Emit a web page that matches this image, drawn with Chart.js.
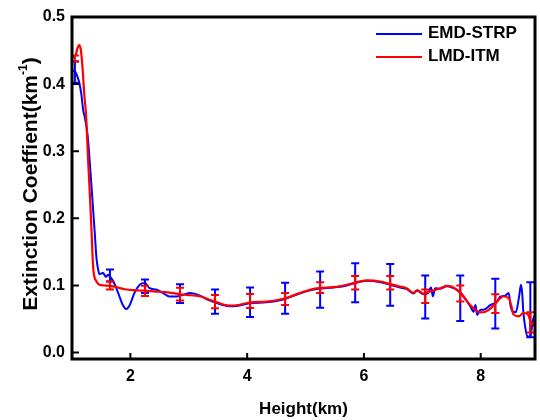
<!DOCTYPE html>
<html><head><meta charset="utf-8">
<script src="https://cdn.jsdelivr.net/npm/chart.js@4.4.0/dist/chart.umd.min.js"></script>
<style>html,body{margin:0;padding:0;background:#fff;}</style>
</head><body>
<canvas id="c" width="540" height="420"></canvas>
<script>
// ---- data ----
const seriesNames = ['EMD-STRP', 'LMD-ITM'];
const xTicks = [2, 4, 6, 8];
const yTicks = [0, 0.1, 0.2, 0.3, 0.4, 0.5];

const blueX = [1.00,1.03,1.06,1.09,1.125,1.16,1.19,1.22,1.27,1.31,1.35,1.39,1.42,1.45,1.47,1.51,1.53,1.58,1.62,1.67,1.71,1.75,1.79,1.87,1.93,1.99,2.07,2.16,2.245,2.33,2.45,2.56,2.67,2.79,2.90,3.02,3.19,3.32,3.45,3.58,3.70,3.85,4.04,4.33,4.50,4.65,4.90,5.05,5.22,5.48,5.65,5.82,6.05,6.28,6.45,6.62,6.73,6.85,6.91,7.02,7.10,7.15,7.18,7.22,7.31,7.42,7.51,7.65,7.82,7.88,7.91,7.94,8.00,8.05,8.17,8.28,8.33,8.42,8.48,8.51,8.54,8.60,8.66,8.69,8.71,8.73,8.76,8.80,8.85,8.88,8.91,8.93];
const blueY = [0.418,0.420,0.418,0.412,0.402,0.385,0.362,0.350,0.322,0.277,0.228,0.178,0.140,0.123,0.117,0.118,0.119,0.113,0.116,0.111,0.106,0.098,0.089,0.071,0.065,0.071,0.089,0.101,0.1036,0.096,0.0936,0.0887,0.0836,0.0836,0.086,0.0887,0.085,0.079,0.075,0.071,0.069,0.070,0.0735,0.075,0.077,0.080,0.088,0.092,0.095,0.097,0.099,0.103,0.107,0.105,0.101,0.097,0.095,0.088,0.092,0.087,0.089,0.097,0.084,0.096,0.095,0.099,0.097,0.090,0.069,0.061,0.071,0.056,0.064,0.064,0.071,0.076,0.083,0.085,0.089,0.070,0.062,0.060,0.085,0.101,0.089,0.061,0.039,0.024,0.024,0.039,0.054,0.048];

const redX = [1.00,1.05,1.09,1.12,1.15,1.18,1.21,1.24,1.28,1.31,1.336,1.354,1.37,1.42,1.47,1.55,1.65,1.75,1.82,1.93,2.05,2.16,2.30,2.45,2.60,2.73,2.85,2.96,3.19,3.32,3.45,3.58,3.70,3.85,4.04,4.33,4.50,4.65,4.90,5.05,5.22,5.48,5.65,5.82,6.05,6.28,6.45,6.62,6.73,6.85,6.91,7.02,7.13,7.31,7.42,7.51,7.65,7.82,7.92,8.00,8.08,8.17,8.28,8.39,8.48,8.53,8.56,8.65,8.73,8.80,8.85,8.90,8.93];
const redY = [0.440,0.441,0.452,0.458,0.452,0.425,0.385,0.355,0.280,0.228,0.178,0.140,0.120,0.106,0.101,0.100,0.0995,0.098,0.096,0.094,0.093,0.0925,0.092,0.091,0.090,0.0887,0.087,0.086,0.084,0.080,0.076,0.072,0.070,0.071,0.0747,0.076,0.078,0.081,0.0887,0.093,0.096,0.0976,0.100,0.1036,0.1075,0.106,0.102,0.0985,0.096,0.089,0.093,0.088,0.091,0.096,0.0995,0.098,0.089,0.071,0.063,0.060,0.061,0.066,0.076,0.0836,0.081,0.068,0.057,0.054,0.059,0.058,0.048,0.042,0.039];

const errX = [1.05,1.65,2.25,2.85,3.45,4.05,4.65,5.25,5.85,6.45,7.05,7.65,8.25,8.85];
const blueMean = [0.418,0.115,0.099,0.088,0.076,0.075,0.081,0.094,0.104,0.101,0.083,0.081,0.073,0.064];
const blueErr  = [0.016,0.009,0.010,0.014,0.018,0.022,0.023,0.027,0.029,0.031,0.032,0.034,0.037,0.041];
const redMean  = [0.438,0.100,0.092,0.087,0.076,0.077,0.080,0.097,0.104,0.104,0.084,0.088,0.073,0.045];
const redErr   = [0.0045,0.006,0.0075,0.0095,0.010,0.0105,0.009,0.008,0.010,0.010,0.010,0.012,0.014,0.015];

// ---- styles ----
const BLUE = '#0000ff', RED = '#ff0000';
const FONT = '"Liberation Sans", Arial, sans-serif';

const errorBars = {
  id: 'errorBars',
  afterDatasetDraw(chart, args) {
    const idx = args.index;
    const mean = idx === 0 ? blueMean : redMean;
    const err = idx === 0 ? blueErr : redErr;
    const color = idx === 0 ? BLUE : RED;
    const xs = chart.scales.x, ys = chart.scales.y, ctx = chart.ctx;
    ctx.save();
    ctx.strokeStyle = color; ctx.lineWidth = 2; ctx.lineCap = 'butt';
    errX.forEach((xv, i) => {
      const px = xs.getPixelForValue(xv);
      const top = ys.getPixelForValue(mean[i] + err[i]);
      const bot = ys.getPixelForValue(mean[i] - err[i]);
      ctx.beginPath();
      ctx.moveTo(px, top); ctx.lineTo(px, bot);
      ctx.moveTo(px - 4, top); ctx.lineTo(px + 4, top);
      ctx.moveTo(px - 4, bot); ctx.lineTo(px + 4, bot);
      ctx.stroke();
    });
    ctx.restore();
  }
};

const frameAndExtras = {
  id: 'frameAndExtras',
  afterDraw(chart) {
    const ctx = chart.ctx, a = chart.chartArea;
    const xs = chart.scales.x, ys = chart.scales.y;
    ctx.save();
    ctx.strokeStyle = '#000';
    ctx.lineWidth = 3;
    ctx.strokeRect(a.left, a.top, a.right - a.left, a.bottom - a.top);
    ctx.lineWidth = 2;
    ctx.beginPath();
    xTicks.forEach(v => { const p = xs.getPixelForValue(v); ctx.moveTo(p, a.bottom); ctx.lineTo(p, a.bottom - 6); });
    yTicks.forEach(v => { const p = ys.getPixelForValue(v); ctx.moveTo(a.left, p); ctx.lineTo(a.left + 7, p); });
    ctx.stroke();

    // legend
    const items = [[seriesNames[0], BLUE, 34], [seriesNames[1], RED, 57]];
    ctx.font = 'bold 17px ' + FONT;
    ctx.textBaseline = 'middle'; ctx.textAlign = 'left';
    items.forEach(([t, c, y]) => {
      ctx.strokeStyle = c; ctx.lineWidth = 2;
      ctx.beginPath(); ctx.moveTo(376, y); ctx.lineTo(422, y); ctx.stroke();
      ctx.fillStyle = '#000'; ctx.fillText(t, 428, y - 1);
    });

    // y-axis title with superscript
    const cy = (a.top + a.bottom) / 2 - 4;
    ctx.translate(37, cy);
    ctx.rotate(-Math.PI / 2);
    ctx.textBaseline = 'alphabetic';
    const main = 'Extinction Coeffient(km', sup = '-1', close = ')';
    ctx.font = 'bold 21px ' + FONT;
    const w1 = ctx.measureText(main).width, w3 = ctx.measureText(close).width;
    ctx.font = 'bold 12px ' + FONT;
    const w2 = ctx.measureText(sup).width;
    let x0 = -(w1 + w2 + w3) / 2;
    ctx.fillStyle = '#000';
    ctx.font = 'bold 21px ' + FONT; ctx.fillText(main, x0, 0);
    ctx.font = 'bold 12px ' + FONT; ctx.fillText(sup, x0 + w1, -10);
    ctx.font = 'bold 21px ' + FONT; ctx.fillText(close, x0 + w1 + w2, 0);
    ctx.restore();
  }
};

new Chart(document.getElementById('c'), {
  type: 'line',
  data: {
    datasets: [
      { label: seriesNames[0], data: blueX.map((x, i) => ({x, y: blueY[i]})), borderColor: BLUE, borderWidth: 2, pointRadius: 0, cubicInterpolationMode: 'monotone', fill: false, order: 2 },
      { label: seriesNames[1], data: redX.map((x, i) => ({x, y: redY[i]})), borderColor: RED, borderWidth: 2.2, pointRadius: 0, cubicInterpolationMode: 'monotone', fill: false, order: 1 }
    ]
  },
  options: {
    responsive: false,
    animation: false,
    devicePixelRatio: 1,
    layout: { padding: { left: 0, top: 17, right: 5, bottom: 0 } },
    plugins: { legend: { display: false }, tooltip: { enabled: false } },
    scales: {
      x: {
        type: 'linear', min: 1, max: 8.93,
        afterBuildTicks: s => { s.ticks = xTicks.map(v => ({value: v})); },
        afterFit: s => { s.height = 61; },
        grid: { display: false, drawTicks: false },
        border: { display: false },
        ticks: { autoSkip: false, maxRotation: 0, padding: 8, color: '#000', font: { family: FONT, size: 16, weight: 'bold' }, callback: v => String(v) },
        title: { display: true, text: 'Height(km)', color: '#000', padding: { top: 0, bottom: 0 }, font: { family: FONT, size: 17, weight: 'bold' } }
      },
      y: {
        type: 'linear', min: -0.0095, max: 0.5,
        afterBuildTicks: s => { s.ticks = yTicks.map(v => ({value: v})); },
        afterFit: s => { s.width = 72; },
        grid: { display: false, drawTicks: false },
        border: { display: false },
        ticks: { autoSkip: false, padding: 7, color: '#000', font: { family: FONT, size: 16, weight: 'bold' }, callback: v => Number(v).toFixed(1) }
      }
    }
  },
  plugins: [errorBars, frameAndExtras]
});
</script>
</body></html>
